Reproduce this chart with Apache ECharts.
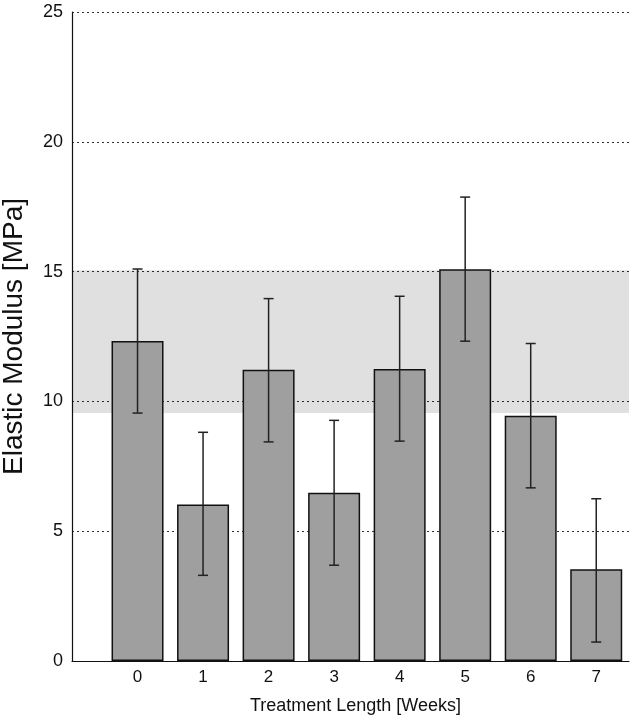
<!DOCTYPE html>
<html>
<head>
<meta charset="utf-8">
<script src="https://cdn.jsdelivr.net/npm/echarts@6/dist/echarts.min.js"></script>
<style>
  html, body { margin: 0; padding: 0; background: #fff; }
  #chart { width: 636px; height: 723px; }
</style>
</head>
<body>
<div id="chart"></div>
<script>
// weeks of treatment
const weeks = [0, 1, 2, 3, 4, 5, 6, 7];
// mean elastic modulus (MPa)
const modulus = [12.33, 6.03, 11.22, 6.48, 11.25, 15.09, 9.45, 3.53];
// error bar ends
const errLow = [9.55, 3.30, 8.44, 3.69, 8.47, 12.32, 6.67, 0.73];
const errHigh = [15.10, 8.81, 13.96, 9.27, 14.05, 17.87, 12.23, 6.25];
// shaded reference band
const bandRange = [9.55, 15.05];
const yTicks = [0, 5, 10, 15, 20, 25];

const font = '"Liberation Sans", Arial, sans-serif';

const chart = echarts.init(document.getElementById("chart"));

const option = {
  animation: false,
  grid: { left: 72, right: 7, top: 12, bottom: 62, outerBoundsMode: "none", containLabel: false },
  xAxis: {
    type: "value",
    min: -1,
    max: 7.5,
    interval: 1,
    name: "Treatment Length [Weeks]",
    nameLocation: "middle",
    nameGap: 36,
    nameTextStyle: { fontFamily: font, fontSize: 18, color: "#111", padding: [0, 0, 0, 10] },
    axisLine: { show: true, onZero: false, lineStyle: { color: "#111", width: 1.2 } },
    axisTick: { show: false },
    splitLine: { show: false },
    axisLabel: {
      fontFamily: font,
      fontSize: 17,
      color: "#111",
      margin: 8,
      showMinLabel: true,
      showMaxLabel: true,
      formatter: (v) => (weeks.includes(v) ? String(v) : ""),
    },
  },
  yAxis: {
    type: "value",
    min: yTicks[0],
    max: yTicks[yTicks.length - 1],
    interval: 5,
    name: "Elastic Modulus [MPa]",
    nameLocation: "middle",
    nameGap: 44,
    nameTextStyle: { fontFamily: font, fontSize: 28, color: "#111" },
    axisLine: { show: true, onZero: false, lineStyle: { color: "#111", width: 1.2 } },
    axisTick: { show: false },
    axisLabel: { fontFamily: font, fontSize: 18, color: "#111", margin: 9 },
    splitLine: {
      show: true,
      lineStyle: { color: "#333", type: [2, 3], width: 1 },
    },
  },
  series: [
    {
      // shaded band
      type: "line",
      data: [],
      z: 1,
      silent: true,
      markArea: {
        silent: true,
        itemStyle: { color: "rgba(0,0,0,0.12)" },
        data: [[{ yAxis: bandRange[0] }, { yAxis: bandRange[1] }]],
      },
    },
    {
      type: "bar",
      z: 3,
      barWidth: 52,
      data: weeks.map((w, i) => [w, modulus[i]]),
      itemStyle: { color: "#9f9f9f", borderColor: "#111", borderWidth: 1.5 },
    },
    {
      // error bars
      type: "custom",
      z: 4,
      data: weeks.map((w, i) => [w, errLow[i], errHigh[i]]),
      renderItem: (params, api) => {
        const lo = api.coord([api.value(0), api.value(1)]);
        const hi = api.coord([api.value(0), api.value(2)]);
        const cap = 5;
        const style = { stroke: "#222", lineWidth: 1.5 };
        return {
          type: "group",
          children: [
            { type: "line", shape: { x1: lo[0], y1: lo[1], x2: hi[0], y2: hi[1] }, style },
            { type: "line", shape: { x1: hi[0] - cap, y1: hi[1], x2: hi[0] + cap, y2: hi[1] }, style },
            { type: "line", shape: { x1: lo[0] - cap, y1: lo[1], x2: lo[0] + cap, y2: lo[1] }, style },
          ],
        };
      },
    },
  ],
};

chart.setOption(option);
</script>
</body>
</html>
